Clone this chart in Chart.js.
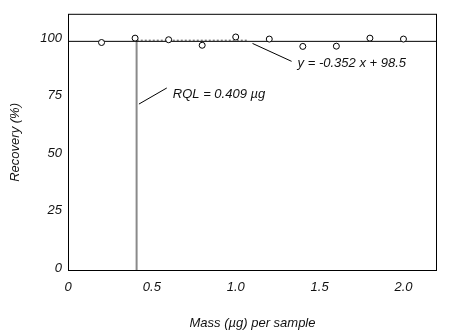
<!DOCTYPE html>
<html>
<head>
<meta charset="utf-8">
<script src="https://cdn.jsdelivr.net/npm/chart.js@4"></script>
<style>
  html, body { margin: 0; padding: 0; background: #fff; }
  #wrap { width: 450px; height: 336px; }
</style>
</head>
<body>
<div id="wrap"><canvas id="c" width="450" height="336"></canvas></div>
<script>
// ---- data ----
const massValues = [0.2, 0.4, 0.6, 0.8, 1.0, 1.2, 1.4, 1.6, 1.8, 2.0];
const recoveryValues = [99.5, 101.4, 100.7, 98.3, 101.9, 101.0, 97.8, 97.9, 101.4, 101.0];
const xTickLabels = [0, 0.5, 1.0, 1.5, 2.0];
const yTickLabels = [0, 25, 50, 75, 100];
const referenceLevel = 100;
const rqlValue = 0.409;
const rqlText = 'RQL = 0.409 µg';
const equationText = 'y = -0.352 x + 98.5';
// annotation pointer segments in data units
const rqlPointer = [[0.423, 72.7], [0.589, 79.7]];
const eqPointer = [[1.10, 99.1], [1.333, 91.3]];
const rqlTextPos = [0.625, 77];
const eqTextPos = [1.369, 90.5];
const dottedSeg = [[0.41, 100.5], [1.07, 100.5]];

const FONT = "'Liberation Sans', Arial, sans-serif";

const textPlugin = {
  id: 'texts',
  afterDatasetsDraw(chart) {
    const {ctx, chartArea, scales: {x, y}} = chart;
    ctx.save();
    ctx.strokeStyle = '#000';
    ctx.lineWidth = 1;
    ctx.strokeRect(chartArea.left + 0.5, chartArea.top + 0.5,
      chartArea.right - chartArea.left - 1, chartArea.bottom - chartArea.top - 1);
    ctx.fillStyle = '#111';
    ctx.font = 'italic 13px ' + FONT;
    ctx.textBaseline = 'middle';
    ctx.textAlign = 'left';
    ctx.fillText(rqlText, x.getPixelForValue(rqlTextPos[0]), y.getPixelForValue(rqlTextPos[1]));
    ctx.fillText(equationText, x.getPixelForValue(eqTextPos[0]), y.getPixelForValue(eqTextPos[1]));
    ctx.restore();
  }
};

const seg = (pts) => pts.map(p => ({x: p[0], y: p[1]}));

new Chart(document.getElementById('c'), {
  type: 'scatter',
  data: {
    datasets: [
      {
        type: 'line',
        data: [{x: 0, y: referenceLevel}, {x: 2.2, y: referenceLevel}],
        borderColor: '#000', borderWidth: 1, pointRadius: 0, order: 3
      },
      {
        type: 'line',
        data: [{x: rqlValue, y: 0}, {x: rqlValue, y: referenceLevel}],
        borderColor: '#8a8a8a', borderWidth: 2, pointRadius: 0, order: 4
      },
      {
        type: 'line',
        data: seg(dottedSeg),
        borderColor: '#555', borderWidth: 1, borderDash: [2, 2], pointRadius: 0, order: 3
      },
      {
        type: 'line',
        data: seg(rqlPointer),
        borderColor: '#000', borderWidth: 1, pointRadius: 0, order: 2
      },
      {
        type: 'line',
        data: seg(eqPointer),
        borderColor: '#000', borderWidth: 1, pointRadius: 0, order: 2
      },
      {
        data: massValues.map((m, i) => ({x: m, y: recoveryValues[i]})),
        pointStyle: 'circle', pointRadius: 3, borderWidth: 1,
        borderColor: '#000', backgroundColor: '#fff', order: 1
      }
    ]
  },
  options: {
    responsive: false,
    animation: false,
    events: [],
    layout: { padding: { left: 0, right: 13, top: 12, bottom: 0 } },
    plugins: { legend: { display: false }, tooltip: { enabled: false } },
    scales: {
      x: {
        type: 'linear', min: 0, max: 2.2,
        grid: { display: false, drawTicks: false },
        border: { display: false },
        afterBuildTicks(s) { s.ticks = xTickLabels.map(v => ({value: v})); },
        afterFit(s) { s.height = 65; },
        ticks: {
          padding: 9, color: '#111', maxRotation: 0,
          font: { family: FONT, size: 13, style: 'italic' },
          callback: (v) => v === 0 ? '0' : Number(v).toFixed(1)
        },
        title: {
          display: true, text: 'Mass (µg) per sample', color: '#111',
          font: { family: FONT, size: 13, style: 'italic' },
          padding: { top: 0, bottom: 5 }
        }
      },
      y: {
        type: 'linear', min: 0, max: 112,
        grid: { display: false, drawTicks: false },
        border: { display: false },
        afterBuildTicks(s) { s.ticks = yTickLabels.map(v => ({value: v})); },
        afterFit(s) { s.width = 68; },
        ticks: {
          padding: 6, color: '#111', labelOffset: -3,
          font: { family: FONT, size: 13, style: 'italic' },
          callback: (v) => String(v)
        },
        title: {
          display: true, text: 'Recovery (%)', color: '#111',
          font: { family: FONT, size: 13, style: 'italic' },
          padding: { top: 8, bottom: 0 }
        }
      }
    }
  },
  plugins: [textPlugin]
});
</script>
</body>
</html>
